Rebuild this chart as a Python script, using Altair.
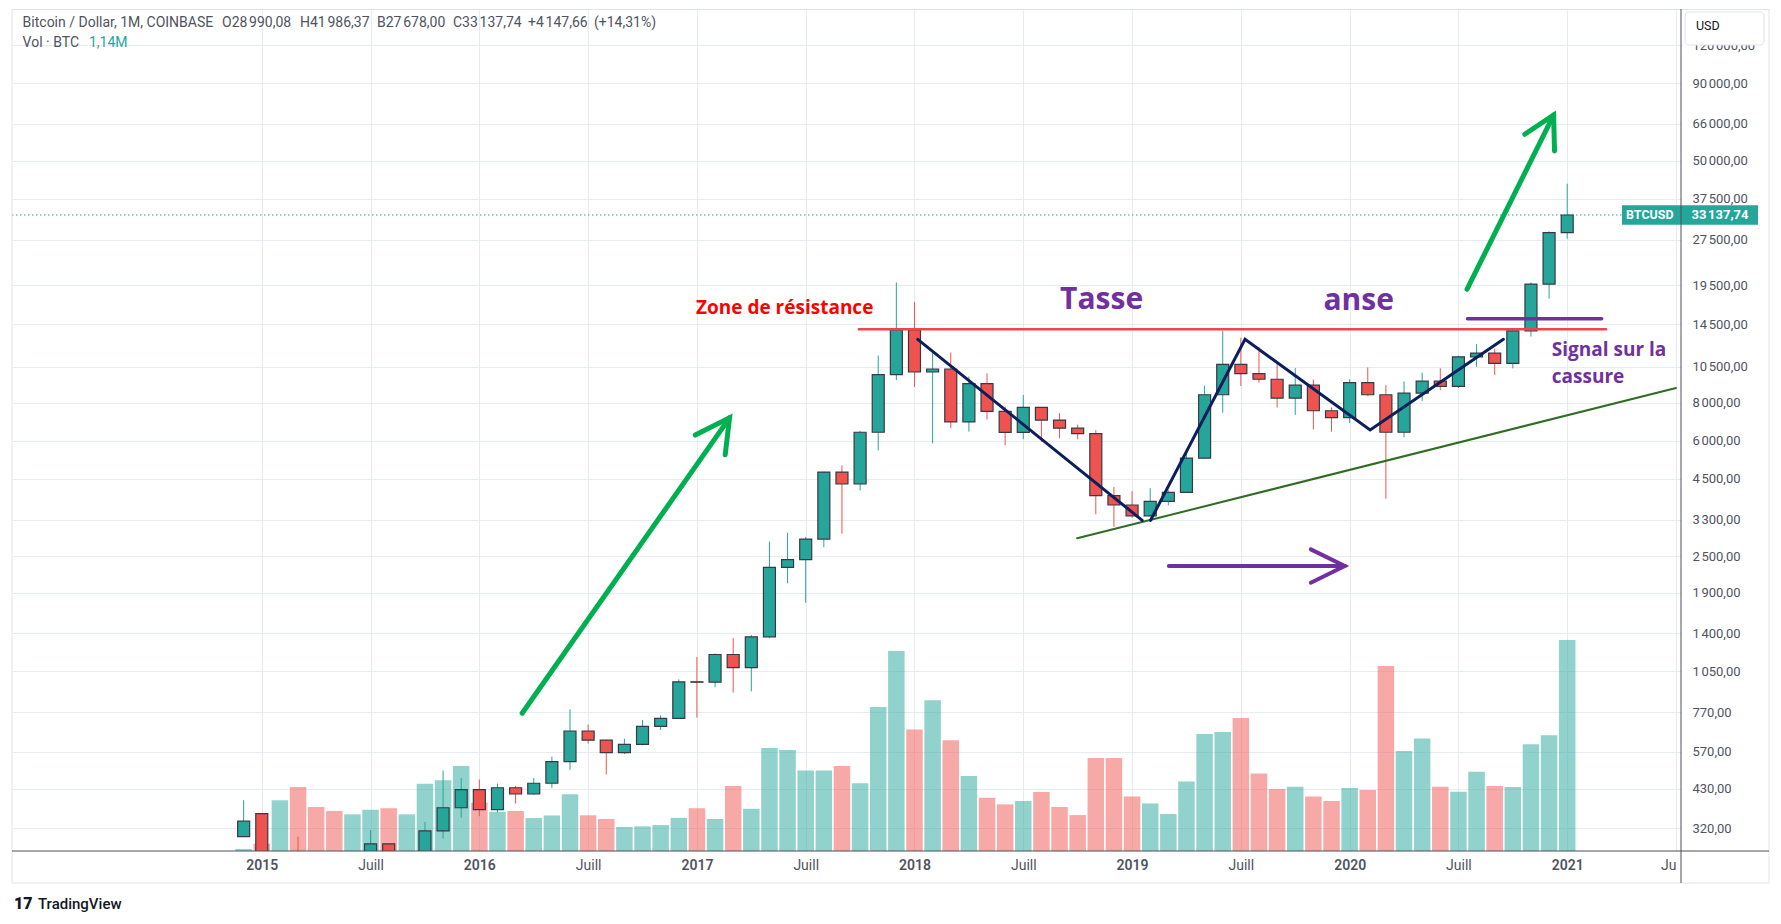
import altair as alt
import pandas as pd

# ---------------- data ----------------
MONTH_INDEX = list(range(-1, 73))  # months since Jan 2015: Dec 2014 .. Jan 2021

OPEN = [300, 357, 215, 254, 244, 236, 230, 263, 284, 230, 236, 313, 373,
        428, 368, 434, 414, 449, 529, 667, 622, 566, 603, 691, 734,
        968, 965, 1190, 1078, 1360, 2300, 2440, 2850, 4735, 4325, 6400, 9900,
        13880, 10100, 10330, 6925, 9245, 7495, 6390, 7730, 7020, 6600, 6330, 3960,
        3690, 3400, 3790, 4060, 5260, 8500, 10700, 9980, 9560, 8280, 9140, 7530,
        7150, 9320, 8500, 6400, 8600, 9420, 9060, 11330, 11650, 10780, 13790, 19650,
        28990.08]
HIGH = [395, 358, 265, 300, 261, 248, 268, 315, 285, 245, 335, 495, 467,
        462, 448, 440, 467, 549, 786, 701, 625, 629, 725, 751, 986,
        1168, 1200, 1348, 1380, 2800, 2990, 2900, 4740, 4980, 6470, 11435, 19891,
        17170, 11790, 11700, 9760, 10000, 7770, 8490, 7750, 7400, 6780, 6500, 4230,
        4100, 4190, 4130, 5520, 9090, 13800, 13100, 12200, 10700, 10400, 9530, 7720,
        9560, 10450, 9150, 9400, 10050, 10390, 11430, 12460, 12060, 14050, 19900, 29300,
        41986.37]
LOW = [299, 170, 212, 236, 214, 225, 220, 254, 195, 225, 235, 295, 346,
       350, 360, 385, 412, 434, 497, 606, 480, 560, 598, 672, 730,
       738, 929, 893, 900, 1345, 2040, 1760, 2680, 2970, 4120, 5580, 9500,
       9020, 5880, 6600, 6430, 7050, 5800, 6070, 5950, 6120, 6070, 3440, 3125,
       3350, 3390, 3680, 4040, 5250, 7420, 9080, 9320, 7720, 7300, 6540, 6430,
       6860, 8420, 3870, 6160, 8110, 8800, 8950, 10500, 9880, 10380, 13200, 17600,
       27678.00]
CLOSE = [337, 215, 254, 244, 236, 230, 263, 284, 230, 236, 313, 373, 428,
         368, 434, 414, 449, 529, 667, 622, 566, 603, 691, 734, 968,
         965, 1190, 1078, 1360, 2300, 2440, 2850, 4735, 4325, 6400, 9900, 13880,
         10100, 10330, 6925, 9245, 7495, 6390, 7730, 7020, 6600, 6330, 3960, 3690,
         3400, 3790, 4060, 5260, 8500, 10700, 9980, 9560, 8280, 9140, 7530, 7150,
         9320, 8500, 6400, 8600, 9420, 9060, 11330, 11650, 10780, 13790, 19650, 28990.08,
         33137.74]
VOLUME_K = [11, 39, 274, 346, 238, 216, 198, 223, 231, 198, 363, 382, 459,
            261, 212, 216, 178, 192, 306, 193, 173, 130, 133, 140, 179,
            231, 173, 351, 228, 556, 545, 435, 435, 459, 366, 778, 1080,
            656, 815, 599, 405, 288, 252, 270, 319, 238, 194, 502, 502,
            294, 257, 200, 375, 632, 643, 718, 419, 335, 347, 295, 270,
            341, 329, 999, 540, 608, 347, 320, 428, 351, 346, 577, 626,
            1140]

Y_TICKS = [320, 430, 570, 770, 1050, 1400, 1900, 2500, 3300, 4500, 6000, 8000,
           10500, 14500, 19500, 27500, 37500, 50000, 66000, 90000, 120000]
X_TICKS = list(range(0, 79, 6))

# drawings (month index, price)
RES_X = [32.93, 74.14]
RES_Y = [13950, 13950]
SIGNAL_X = [66.5, 73.9]
SIGNAL_Y = [15120, 15120]
TREND_X = [44.97, 78.0]
TREND_Y = [2867, 8950]
NAVY_SEG = [1, 1, 2, 2, 2, 2]
NAVY_X = [36.18, 48.56, 49.02, 54.23, 61.13, 68.48]
NAVY_Y = [12925, 3286, 3286, 12934, 6509, 12934]
GREEN_SEG = ["a1", "a1", "h1", "h1", "h1", "a2", "a2", "h2", "h2", "h2"]
GREEN_X = [14.36, 25.80, 23.91, 25.80, 25.56, 66.47, 71.25, 69.66, 71.25, 71.30]
GREEN_Y = [763, 7135, 6264, 7135, 5395, 18880, 70630, 61050, 70630, 53790]
PURPLE_SEG = ["s", "s", "h", "h", "h"]
PURPLE_X = [50.03, 59.73, 57.86, 59.73, 57.86]
PURPLE_Y = [2325, 2325, 2638, 2325, 2049]

RED_TEXT = ["Zone de résistance"]
RED_TEXT_X = [23.95]
RED_TEXT_Y = [15710]
BIG_TEXT = ["Tasse", "anse"]
BIG_TEXT_X = [46.32, 60.5]
BIG_TEXT_Y = [16230, 16110]
SMALL_TEXT = ["Signal sur la", "cassure"]
SMALL_TEXT_X = [71.15, 71.15]
SMALL_TEXT_Y = [11400, 9311]

HEADER_TEXT = ["Bitcoin / Dollar, 1M, COINBASE", "O28\u202f990,08", "H41\u202f986,37",
               "B27\u202f678,00", "C33\u202f137,74", "+4\u202f147,66", "(+14,31%)"]
HEADER_X = [10.6, 210, 288, 365, 441, 516, 582]

# ---------------- style ----------------
W, H = 1669, 842
TEAL = "#26a69a"
RED = "#ef5350"
GRID = "#e6ecf2"
AXIS_TXT = "#50535e"
AXIS_LINE = "#4a4e59"
FRAME = "#e0e3eb"

xscale = alt.Scale(domain=[-13.5, 78], nice=False, zero=False)
yscale = alt.Scale(type="log", domain=[268.9, 157600], nice=False)

xaxis = alt.Axis(
    values=X_TICKS,
    labelExpr="datum.value == 78 ? 'Ju' : (datum.value % 12 == 0 ? toString(2015 + datum.value / 12) : 'Juill')",
    grid=True, gridColor=GRID, gridWidth=1, domain=False, ticks=False,
    labelPadding=7, labelFont="Roboto", labelFontSize=14, labelColor=AXIS_TXT,
    labelFontWeight={"condition": {"test": "datum.value % 12 == 0", "value": 600}, "value": 400},
    labelAlign={"condition": {"test": "datum.value == 78", "value": "right"}, "value": "center"},
    labelOverlap=False, labelFlush=False, title=None,
)
yaxis = alt.Axis(
    orient="right", values=Y_TICKS,
    labelExpr="replace(replace(format(datum.value, ',.2f'), ',', '\u202f'), '.', ',')",
    grid=True, gridColor=GRID, gridWidth=1, domain=False, ticks=False,
    labelPadding=11, labelAlign="left", labelFont="Roboto", labelFontSize=13,
    labelColor=AXIS_TXT, labelOverlap=False, title=None,
)


def X(f):
    return alt.X(f, type="quantitative", scale=xscale, axis=xaxis)


def Y(f):
    return alt.Y(f, type="quantitative", scale=yscale, axis=yaxis)


df = pd.DataFrame({"i": MONTH_INDEX, "o": OPEN, "h": HIGH, "l": LOW, "c": CLOSE, "v": VOLUME_K})
color = alt.Color("dir:N", scale=alt.Scale(domain=["up", "down"], range=[TEAL, RED]), legend=None)
base = alt.Chart(df).transform_calculate(dir="datum.c >= datum.o ? 'up' : 'down'")

vol = base.mark_bar(size=16.5, opacity=0.5).encode(
    x=X("i"),
    y=alt.Y("v:Q", scale=alt.Scale(domain=[0, 4549], nice=False, zero=True), axis=None),
    color=color,
)

wicks = base.mark_rule(strokeWidth=1, clip=True).encode(x=X("i"), y=Y("l"), y2=alt.Y2("h"), color=color)
bodies = base.mark_bar(size=12, stroke="#363a45", strokeWidth=1.2, clip=True).encode(
    x=X("i"), y=Y("o"), y2=alt.Y2("c"), color=color)

last = pd.DataFrame({"p": [CLOSE[-1]]})
dotted = alt.Chart(last).mark_rule(strokeDash=[1.5, 2.5], color=TEAL, strokeWidth=1).encode(
    y=Y("p"), x=alt.value(0), x2=alt.value(1610))


def line_layer(xs, ys, segs, col, width, join="round"):
    d = pd.DataFrame({"x": xs, "y": ys, "seg": segs, "k": list(range(len(xs)))})
    return alt.Chart(d).mark_line(color=col, strokeWidth=width, strokeCap="round",
                                  strokeJoin=join, clip=True).encode(
        x=X("x"), y=Y("y"), detail="seg:N", order="k:Q")


res_line = line_layer(RES_X, RES_Y, [1, 1], "#f0444f", 2.5)
trend = line_layer(TREND_X, TREND_Y, [1, 1], "#2e6e23", 2)
navy = line_layer(NAVY_X, NAVY_Y, NAVY_SEG, "#0b1f5c", 3, "miter")
green = line_layer(GREEN_X, GREEN_Y, GREEN_SEG, "#00b050", 5, "miter")
purple_arrow = line_layer(PURPLE_X, PURPLE_Y, PURPLE_SEG, "#7030a0", 4, "miter")
signal = line_layer(SIGNAL_X, SIGNAL_Y, [1, 1], "#7030a0", 3.5)


def text_layer(texts, xs, ys, col, size, align):
    d = pd.DataFrame({"t": texts, "x": xs, "y": ys})
    return alt.Chart(d).mark_text(align=align, baseline="alphabetic", font="Open Sans",
                                  fontWeight="bold", fontSize=size, color=col).encode(
        x=X("x"), y=Y("y"), text="t:N")


red_txt = text_layer(RED_TEXT, RED_TEXT_X, RED_TEXT_Y, "#ff0000", 19, "left")
big_txt = text_layer(BIG_TEXT, BIG_TEXT_X, BIG_TEXT_Y, "#7030a0", 30, "center")
small_txt = text_layer(SMALL_TEXT, SMALL_TEXT_X, SMALL_TEXT_Y, "#7030a0", 19, "left")

one = pd.DataFrame({"a": [0]})

header_layers = []
for t, hx in zip(HEADER_TEXT, HEADER_X):
    header_layers.append(
        alt.Chart(one).mark_text(align="left", baseline="middle", font="Roboto", fontSize=14,
                                 color=AXIS_TXT).encode(x=alt.value(hx), y=alt.value(13.6), text=alt.value(t)))
header_layers.append(
    alt.Chart(one).mark_text(align="left", baseline="middle", font="Roboto", fontSize=14,
                             color=AXIS_TXT).encode(x=alt.value(10.6), y=alt.value(34), text=alt.value("Vol \u00b7 BTC")))
header_layers.append(
    alt.Chart(one).mark_text(align="left", baseline="middle", font="Roboto", fontSize=14,
                             color=TEAL).encode(x=alt.value(77), y=alt.value(34), text=alt.value("1,14M")))

tag_rect = alt.Chart(last).transform_calculate(lo="datum.p / 1.0757", hi="datum.p * 1.0757").mark_rect(
    color=TEAL).encode(x=alt.value(1610), x2=alt.value(1746), y=Y("lo"), y2=alt.Y2("hi"))
tag_t1 = alt.Chart(last).mark_text(align="left", baseline="middle", font="Roboto", fontWeight="bold",
                                   fontSize=12.5, color="white").encode(
    x=alt.value(1614), y=Y("p"), text=alt.value("BTCUSD"))
tag_t2 = alt.Chart(last).mark_text(align="left", baseline="middle", font="Roboto", fontWeight="bold",
                                   fontSize=13, color="white").encode(
    x=alt.value(1679.5), y=Y("p"), text=alt.value("33\u202f137,74"))

usd_box = alt.Chart(one).mark_rect(fill="white", stroke=FRAME, strokeWidth=1, cornerRadius=4).encode(
    x=alt.value(1673), x2=alt.value(1752), y=alt.value(3), y2=alt.value(36))
usd_txt = alt.Chart(one).mark_text(align="left", baseline="middle", font="Roboto", fontSize=12.5,
                                   color="#131722").encode(x=alt.value(1684), y=alt.value(17),
                                                           text=alt.value("USD"))

frame_top = alt.Chart(one).mark_rule(color=FRAME, strokeWidth=1).encode(
    y=alt.value(0.5), x=alt.value(0), x2=alt.value(1757))
frame_left = alt.Chart(one).mark_rule(color=FRAME, strokeWidth=1).encode(
    x=alt.value(0), y=alt.value(0), y2=alt.value(874))
frame_right = alt.Chart(one).mark_rule(color=FRAME, strokeWidth=1).encode(
    x=alt.value(1757), y=alt.value(0), y2=alt.value(874))
frame_bottom = alt.Chart(one).mark_rule(color=FRAME, strokeWidth=1).encode(
    y=alt.value(874), x=alt.value(0), x2=alt.value(1757))
axis_h = alt.Chart(one).mark_rule(color=AXIS_LINE, strokeWidth=1).encode(
    y=alt.value(842), x=alt.value(0), x2=alt.value(1757))
axis_v = alt.Chart(one).mark_rule(color=AXIS_LINE, strokeWidth=1).encode(
    x=alt.value(1669), y=alt.value(0), y2=alt.value(874))

logo_icon = alt.Chart(one).mark_text(align="left", baseline="middle", font="Roboto", fontWeight=900,
                                     fontSize=16, color="#131722").encode(
    x=alt.value(2), y=alt.value(895), text=alt.value("17"))
logo_txt = alt.Chart(one).mark_text(align="left", baseline="middle", font="Roboto", fontWeight=500,
                                    fontSize=15, color="#131722").encode(
    x=alt.value(26), y=alt.value(895), text=alt.value("TradingView"))

price = alt.layer(
    dotted, wicks, bodies, res_line, trend, navy, green, purple_arrow, signal,
    red_txt, big_txt, small_txt, *header_layers,
    tag_rect, tag_t1, tag_t2, usd_box, usd_txt,
    frame_top, frame_left, frame_right, frame_bottom, axis_h, axis_v, logo_icon, logo_txt,
)

chart = alt.layer(vol, price).resolve_scale(y="independent").properties(
    width=W, height=H,
    padding={"left": 3, "top": 0, "right": 0, "bottom": 0},
    background="white",
).configure_view(strokeWidth=0)

chart.save("out.html", embed_options={"renderer": "svg", "actions": False})
